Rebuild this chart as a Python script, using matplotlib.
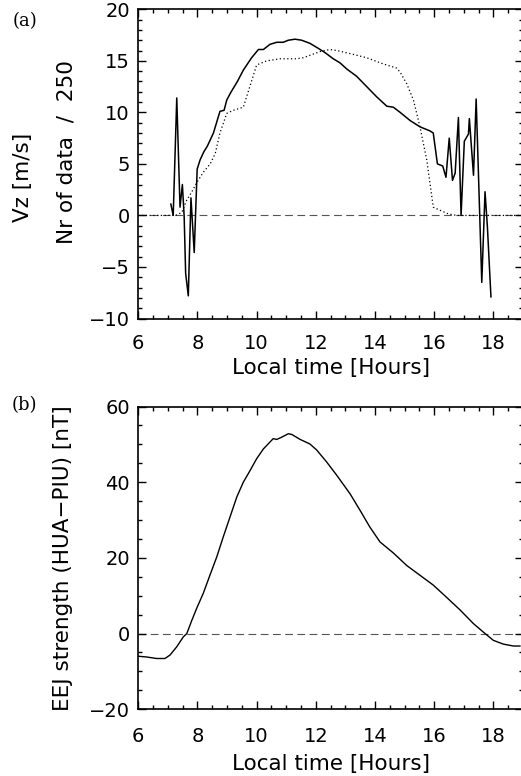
import numpy as np
import matplotlib
matplotlib.use('Agg')
import matplotlib.pyplot as plt
from matplotlib.ticker import MultipleLocator

# (a) vertical drift velocity [m/s]
vz_hours = [7.10, 7.18, 7.30, 7.41, 7.49, 7.55, 7.60, 7.69, 7.78, 7.89, 7.99, 8.09, 8.22, 8.33,
            8.54, 8.76, 8.90, 8.99, 9.12, 9.35, 9.55, 9.83, 10.06, 10.23, 10.45, 10.68, 10.90,
            11.07, 11.30, 11.52, 11.80, 12.09, 12.31, 12.59, 12.82, 13.05, 13.38, 13.72, 14.06,
            14.40, 14.62, 14.85, 15.19, 15.52, 15.86, 15.97, 16.11, 16.29, 16.40, 16.51, 16.62,
            16.71, 16.82, 16.91, 17.02, 17.16, 17.19, 17.33, 17.42, 17.61, 17.72, 17.80, 17.92]
vz = [1.1, 0.0, 11.4, 0.8, 3.0, -0.1, -5.6, -7.8, 1.7, -3.6, 4.5, 5.4, 6.2, 6.7,
      8.0, 10.1, 10.2, 11.2, 11.9, 13.0, 14.1, 15.3, 16.1, 16.1, 16.6, 16.8, 16.8,
      17.0, 17.1, 17.0, 16.7, 16.2, 15.8, 15.2, 14.8, 14.2, 13.5, 12.5, 11.5,
      10.6, 10.5, 10.0, 9.2, 8.6, 8.2, 8.0, 5.0, 4.8, 3.7, 7.5, 3.4,
      4.1, 9.5, 0.0, 7.2, 7.9, 9.4, 3.9, 11.3, -6.5, 2.3, -1.1, -7.9]

# (a) number of data / 250
nr_hours = [6.0, 7.0, 7.30, 7.47, 7.64, 7.81, 7.98, 8.20, 8.43, 8.60, 8.76, 8.99, 9.21, 9.55,
            9.77, 10.00, 10.34, 10.79, 11.35, 11.58, 11.86, 12.14, 12.48, 12.71, 13.16, 13.72,
            14.28, 14.73, 14.85, 15.07, 15.30, 15.52, 15.75, 15.97, 16.20, 16.48, 16.76, 19.0]
nr_data = [0.0, 0.0, 0.05, 0.3, 1.5, 2.3, 3.2, 4.2, 5.0, 6.0, 8.0, 9.9, 10.2, 10.5,
           12.5, 14.6, 15.0, 15.2, 15.2, 15.3, 15.6, 15.9, 16.1, 16.0, 15.7, 15.3,
           14.7, 14.3, 13.9, 12.8, 11.2, 8.6, 5.4, 0.8, 0.5, 0.15, 0.0, 0.0]

# (b) EEJ strength [nT]
eej_hours = [6.00, 6.28, 6.62, 6.90, 7.07, 7.30, 7.52, 7.64, 7.81, 7.97, 8.20, 8.42, 8.65,
             8.87, 9.10, 9.33, 9.55, 9.78, 10.00, 10.23, 10.45, 10.56, 10.68, 10.85, 11.07,
             11.19, 11.47, 11.80, 12.03, 12.37, 12.71, 13.16, 13.50, 13.83, 14.17, 14.62,
             15.07, 15.52, 15.97, 16.43, 16.88, 17.33, 17.66, 18.00, 18.34, 18.68, 18.90]
eej = [-6.0, -6.2, -6.6, -6.6, -5.7, -3.5, -0.9, 0.0, 3.5, 6.6, 10.7, 15.4, 20.2,
       25.5, 30.8, 36.1, 40.0, 43.1, 46.2, 48.8, 50.6, 51.5, 51.3, 51.9, 52.8,
       52.6, 51.3, 50.1, 48.5, 45.3, 41.8, 36.9, 32.5, 28.1, 24.2, 21.3,
       18.0, 15.4, 12.8, 9.5, 6.2, 2.6, 0.4, -1.8, -2.8, -3.3, -3.3]

W, H = 521, 776
fig = plt.figure(figsize=(W / 100, H / 100), dpi=100)
fs_tick = 14
fs_lab = 15.5


def style_axes(ax, ymaj, ymin, xpad):
    ax.set_xlim(6, 19)
    ax.xaxis.set_major_locator(MultipleLocator(2))
    ax.xaxis.set_minor_locator(MultipleLocator(0.5))
    ax.yaxis.set_major_locator(MultipleLocator(ymaj))
    ax.yaxis.set_minor_locator(MultipleLocator(ymin))
    ax.tick_params(which='both', direction='in', top=True, right=True, width=1.0)
    ax.tick_params(which='major', length=6)
    ax.tick_params(which='minor', length=3)
    ax.tick_params(axis='x', which='major', pad=xpad, labelsize=fs_tick)
    ax.tick_params(axis='y', which='major', pad=6, labelsize=fs_tick)
    for s in ax.spines.values():
        s.set_linewidth(1.2)
    ax.axhline(0, color='#555555', lw=0.8, ls=(0, (7, 4)), zorder=1)
    ax.set_xlabel('Local time [Hours]', fontsize=fs_lab)
    ax.xaxis.label.set_va('center')


# panel (a)
ax1 = fig.add_axes([138.3 / W, 1 - 318.5 / H, 384.6 / W, 309.2 / H])
ax1.plot(nr_hours, nr_data, color='black', lw=0.9, ls=(0, (1, 2)), zorder=2)
ax1.plot(vz_hours, vz, color='black', lw=1.1, zorder=3)
ax1.set_ylim(-10, 20)
ax1.set_yticks([-10, -5, 0, 5, 10, 15, 20])
style_axes(ax1, 5, 1, 11)
ax1.xaxis.set_label_coords(0.5, (318.5 - 368) / 309.2)
yt = ax1.yaxis.get_major_ticks()
yt[0].label1.set_va('bottom')
yt[-1].label1.set_va('top')
ax1.text((23 - 138.3) / 384.6, (318.5 - 177.5) / 309.2, 'Vz [m/s]', transform=ax1.transAxes,
         rotation=90, ha='center', va='center', fontsize=fs_lab)
ax1.text((67 - 138.3) / 384.6, (318.5 - 152.5) / 309.2, 'Nr of data  /  250',
         transform=ax1.transAxes, rotation=90, ha='center', va='center', fontsize=fs_lab)

# panel (b)
ax2 = fig.add_axes([138.3 / W, 1 - 709.2 / H, 384.6 / W, 302.7 / H])
ax2.plot(eej_hours, eej, color='black', lw=1.0, zorder=3)
ax2.set_ylim(-20, 60)
ax2.set_yticks([-20, 0, 20, 40, 60])
style_axes(ax2, 20, 5, 13)
ax2.xaxis.set_label_coords(0.5, (709.2 - 764) / 302.7)
ax2.yaxis.get_major_ticks()[0].label1.set_va('bottom')
ax2.set_ylabel('EEJ strength (HUA\u2212PIU) [nT]', fontsize=fs_lab)
ax2.yaxis.set_label_coords((63 - 138.3) / 384.6, 0.5)
ax2.yaxis.label.set_va('center')

fig.text(25.5 / W, 1 - 21 / H, '(a)', family='DejaVu Serif', fontsize=13,
         ha='center', va='center')
fig.text(24 / W, 1 - 405 / H, '(b)', family='DejaVu Serif', fontsize=13,
         ha='center', va='center')

fig.savefig('out.png', dpi=100)
plt.close(fig)
